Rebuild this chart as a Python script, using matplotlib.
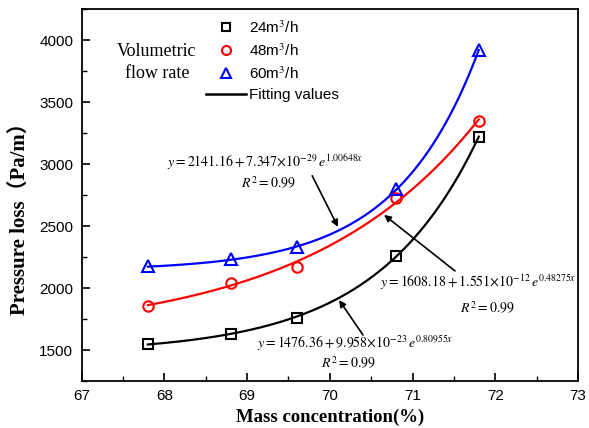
import numpy as np
import matplotlib
matplotlib.use("Agg")
import matplotlib.pyplot as plt
from matplotlib.lines import Line2D
from matplotlib.ticker import MultipleLocator

plt.rcParams['mathtext.fontset'] = 'stix'

# Data
conc = [67.8, 68.8, 69.6, 70.8, 71.8]
p24 = [1546, 1627, 1758, 2256, 3222]
p48 = [1858, 2044, 2170, 2727, 3347]
p60 = [2178, 2235, 2332, 2801, 3925]

# Fit parameters (a + b*exp(c*x)) as printed on the chart
fit24 = [1476.36, 9.958e-23, 0.80955]
fit48 = [1608.18, 1.551e-12, 0.48275]
fit60 = [2141.16, 7.347e-29, 1.00648]

labels = ['24m$^3$/h', '48m$^3$/h', '60m$^3$/h']
xticks = [67, 68, 69, 70, 71, 72, 73]
yticks = [1500, 2000, 2500, 3000, 3500, 4000]

W, H = 589, 428
fig = plt.figure(figsize=(W/100, H/100), dpi=100)
ax = fig.add_axes([81.7/W, 1-381/H, (578-81.7)/W, (381-9.3)/H])

xf = np.linspace(conc[0], conc[-1], 200)
for fit, col in [(fit24, 'black'), (fit48, 'red'), (fit60, 'blue')]:
    a, b, c = fit
    ax.plot(xf, a + b*np.exp(c*xf), color=col, lw=1.6, zorder=2)

ms = 7.5
ax.plot(conc, p24, ls='none', marker='s', ms=ms, mfc='none', mec='black', mew=1.5, zorder=3)
ax.plot(conc, p48, ls='none', marker='o', ms=ms, mfc='none', mec='red', mew=1.5, zorder=3)
ax.plot(conc, p60, ls='none', marker='^', ms=ms+1, mfc='none', mec='blue', mew=1.5, zorder=3)

ax.set_xlim(67, 73)
ax.set_ylim(1250, 4250)
ax.set_xticks(xticks)
ax.set_yticks(yticks)
ax.xaxis.set_minor_locator(MultipleLocator(0.5))
ax.yaxis.set_minor_locator(MultipleLocator(250))
ax.tick_params(which='both', direction='in', top=False, right=False)
ax.tick_params(which='major', length=6, width=1.2, pad=6)
ax.tick_params(which='minor', length=3.5, width=1.0)
for lab in ax.get_xticklabels() + ax.get_yticklabels():
    lab.set_family('Liberation Sans')
    lab.set_fontsize(11)
for s in ax.spines.values():
    s.set_linewidth(1.3)

ax.set_xlabel('Mass concentration(%)', family=['Liberation Serif', 'Noto Sans CJK SC'],
              fontweight='bold', fontsize=13.5, labelpad=4)
ax.set_ylabel('Pressure loss（Pa/m）', family=['Liberation Serif', 'Noto Sans CJK SC'],
              fontweight='bold', fontsize=15, labelpad=5)
ax.yaxis.set_label_coords(-0.105, 0.45)

# Legend
handles = [
    Line2D([], [], ls='none', marker='s', ms=6, mfc='none', mec='black', mew=1.5),
    Line2D([], [], ls='none', marker='o', ms=6.5, mfc='none', mec='red', mew=1.5),
    Line2D([], [], ls='none', marker='^', ms=7, mfc='none', mec='blue', mew=1.5),
    Line2D([], [], color='black', lw=1.8),
]
leg = ax.legend(handles, labels + ['Fitting values'], loc='upper left',
                bbox_to_anchor=(200/W, 1-13/H), bbox_transform=fig.transFigure,
                frameon=False, handlelength=2.6, handletextpad=0.2,
                labelspacing=0.42, borderaxespad=0,
                prop={'family': 'Liberation Sans', 'size': 11})

fig.text(157/W, 1-51/H, 'Volumetric', ha='center', va='center',
         family='Liberation Serif', fontsize=13)
fig.text(157/W, 1-74/H, 'flow rate', ha='center', va='center',
         family='Liberation Serif', fontsize=13)

# Equations
eqfs = 10
ax.text(68.032, 3019, r'$y = 2141.16 + 7.347{\times}10^{-29}\,e^{1.00648x}$',
        ha='left', va='center', fontsize=eqfs)
ax.text(69.252, 2850, r'$R^2 = 0.99$', ha='center', va='center', fontsize=eqfs)
ax.text(70.606, 2049, r'$y = 1608.18 + 1.551{\times}10^{-12}\,e^{0.48275x}$',
        ha='left', va='center', fontsize=eqfs)
ax.text(71.899, 1839, r'$R^2 = 0.99$', ha='center', va='center', fontsize=eqfs)
ax.text(69.12, 1556, r'$y = 1476.36 + 9.958{\times}10^{-23}\,e^{0.80955x}$',
        ha='left', va='center', fontsize=eqfs)
ax.text(70.22, 1394, r'$R^2 = 0.99$', ha='center', va='center', fontsize=eqfs)

ap = dict(arrowstyle='-|>', color='black', lw=1.2, mutation_scale=10, shrinkA=0, shrinkB=0)
ax.annotate('', xy=(70.098, 2494), xytext=(69.787, 2906), arrowprops=ap)
ax.annotate('', xy=(70.655, 2591), xytext=(71.513, 2138), arrowprops=ap)
ax.annotate('', xy=(70.111, 1904), xytext=(70.401, 1621), arrowprops=ap)

fig.savefig('out.png', dpi=100)
